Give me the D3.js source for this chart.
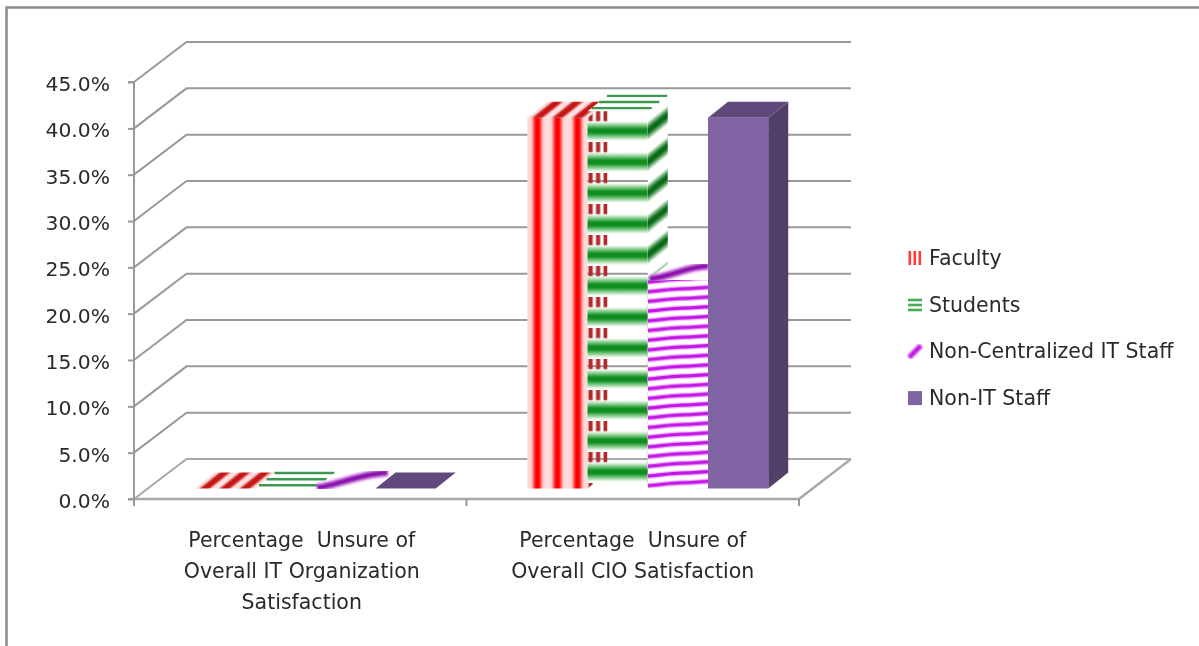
<!DOCTYPE html>
<html><head><meta charset="utf-8">
<script src="https://cdn.jsdelivr.net/npm/d3@7/dist/d3.min.js"></script>
<style>html,body{margin:0;background:#fff}svg{display:block}text{font-family:"DejaVu Sans";font-size:20.5px;fill:#2a2a2a;white-space:pre}</style>
</head><body><div id="c"></div>
<script>
const categories = ["Percentage  Unsure of Overall IT Organization Satisfaction","Percentage  Unsure of Overall CIO Satisfaction"];
const categoryLines = [["Percentage  Unsure of","Overall IT Organization","Satisfaction"],["Percentage  Unsure of","Overall CIO Satisfaction"]];
const seriesNames = ["Faculty","Students","Non-Centralized IT Staff","Non-IT Staff"];
const faculty = [0,40];
const students = [0,40.7];
const nonCentralized = [0,22.5];
const nonIT = [0,40];
const yTicks = [0,5,10,15,20,25,30,35,40,45];
const seriesValues = [faculty,students,nonCentralized,nonIT];

const W=1199,H=646;
const svg=d3.select("#c").append("svg").attr("width",W).attr("height",H);
const defs=svg.append("defs");
defs.append("filter").attr("id","soft").attr("x",-0.02).attr("y",-0.02).attr("width",1.04).attr("height",1.04)
  .append("feGaussianBlur").attr("stdDeviation",0.5);
defs.append("filter").attr("id","soft2").append("feGaussianBlur").attr("stdDeviation",1.2);

const y=d3.scaleLinear().domain([0,45]).range([499,82]);
const x0=d3.scaleBand().domain(d3.range(categories.length)).range([134,799]);
const x1=d3.scaleBand().domain(d3.range(seriesNames.length)).range([0,x0.bandwidth()]).paddingInner(0).paddingOuter(0.76);
const back={dx:52.5,dy:-40}, inset={dx:15,dy:-10.5}, depth={dx:20,dy:-16};
const gridCol="#999999", floorCol="#a8a8a8";

const root=svg.append("g").attr("filter","url(#soft)");
// frame
root.append("path").attr("d",`M6.5,${H}V7.5H${W}`).attr("fill","none").attr("stroke","#8a8a8a").attr("stroke-width",2.5);

// walls and floor
const wall=root.append("g");
wall.selectAll("path.grid").data(yTicks).join("path").attr("class","grid")
 .attr("d",d=>`M134,${y(d)}L${134+back.dx},${y(d)+back.dy}H851`)
 .attr("fill","none").attr("stroke",d=>d===0?floorCol:gridCol).attr("stroke-width",2);
wall.append("path").attr("d",`M134,${y(0)}H799L851,${y(0)+back.dy}`).attr("fill","none").attr("stroke",floorCol).attr("stroke-width",2.4);

// axes
const axis=root.append("g").attr("transform","translate(134,0)")
 .call(d3.axisLeft(y).tickValues(yTicks).tickSize(6).tickPadding(18).tickFormat(d=>d3.format(".1f")(d)+"%"));
axis.select(".domain").attr("stroke",gridCol).attr("stroke-width",2).attr("d",`M-6,${y(45)}H0V${y(0)}H-6`);
axis.selectAll(".tick line").attr("stroke",gridCol).attr("stroke-width",2);
axis.selectAll("text").style("font-size","20.3px").attr("fill","#2a2a2a").attr("dy","0.42em");
root.append("g").selectAll("line").data([0,1,2]).join("line")
 .attr("x1",d=>d===2?799:x0(d)).attr("x2",d=>d===2?799:x0(d)).attr("y1",y(0)).attr("y2",y(0)+7)
 .attr("stroke",gridCol).attr("stroke-width",2);

// patterns
function grad(id,stops,vert){const g=defs.append("linearGradient").attr("id",id);
 if(vert)g.attr("x1",0).attr("x2",0).attr("y1",0).attr("y2",1);
 stops.forEach(s=>g.append("stop").attr("offset",s[0]).attr("stop-color",s[1]).attr("stop-opacity",s[2]===undefined?1:s[2]));return `url(#${id})`;}
const bw=x1.bandwidth();
const fx=(c,s)=>x0(c)+x1(s)+inset.dx;
// faculty front stripes
const fPeriod=bw/3;
const redGrad=grad("redG",[[0,"#ffdcdc"],[0.2,"#ffd4d4"],[0.32,"#ff6060"],[0.42,"#ff0000"],[0.58,"#ff0000"],[0.68,"#ff6060"],[0.8,"#ffd4d4"],[1,"#ffdcdc"]]);
const pF=defs.append("pattern").attr("id","pFacF").attr("patternUnits","userSpaceOnUse").attr("width",fPeriod).attr("height",10)
 .attr("patternTransform",`translate(${fx(1,0)},0)`);
pF.append("rect").attr("width",fPeriod).attr("height",10).attr("fill",redGrad);
// faculty top: same stripes sheared
["0","1"].forEach(c=>{
 const pT=defs.append("pattern").attr("id","pFacT"+c).attr("patternUnits","userSpaceOnUse").attr("width",fPeriod).attr("height",depth.dy*-1)
  .attr("patternTransform",`translate(${fx(+c,0)},${y(faculty[+c])+inset.dy}) skewX(${Math.atan(depth.dx/depth.dy)*180/Math.PI})`);
 const tg=grad("redT"+c,[[0,"#ffe8e8"],[0.16,"#f8d0d0"],[0.32,"#d23030"],[0.42,"#c41414"],[0.58,"#c41414"],[0.68,"#d23030"],[0.84,"#f8d0d0"],[1,"#ffe8e8"]]);
 pT.append("rect").attr("width",fPeriod).attr("height",-depth.dy).attr("fill",tg);
});
// faculty side dashes
const rowP=31;
const sideRowY=y(0)+inset.dy-36.5;
const pS=defs.append("pattern").attr("id","pFacS").attr("patternUnits","userSpaceOnUse").attr("width",depth.dx).attr("height",rowP)
 .attr("patternTransform",`translate(${fx(1,1)},${sideRowY})`);
[1,8.5,16].forEach(o=>pS.append("rect").attr("x",o).attr("y",0).attr("width",4.2).attr("height",10.5).attr("fill","#b22a2a"));
// student bands
const bandStops=[[0,"#fff",0],[0.1,"#d8efd8",1],[0.28,"#62bb6c",1],[0.42,"#0e8c20",1],[0.58,"#0e8c20",1],[0.72,"#62bb6c",1],[0.9,"#d8efd8",1],[1,"#fff",0]];
const bandG=grad("bandG",bandStops,true);
const bandS=grad("bandS",[[0,"#fff",0],[0.1,"#cfe6cf",1],[0.28,"#4f9a58",1],[0.42,"#0a6a18",1],[0.58,"#0a6a18",1],[0.72,"#4f9a58",1],[0.9,"#cfe6cf",1],[1,"#fff",0]],true);
const bandH=21, bandCy=472;
const pSF=defs.append("pattern").attr("id","pStuF").attr("patternUnits","userSpaceOnUse").attr("width",10).attr("height",rowP)
 .attr("patternTransform",`translate(0,${bandCy-bandH/2})`);
pSF.append("rect").attr("width",10).attr("height",bandH).attr("fill",bandG);
const pSS=defs.append("pattern").attr("id","pStuS").attr("patternUnits","userSpaceOnUse").attr("width",depth.dx).attr("height",rowP)
 .attr("patternTransform",`translate(${fx(1,2)},${bandCy-bandH/2}) skewY(${Math.atan(depth.dy/depth.dx)*180/Math.PI})`);
pSS.append("rect").attr("width",depth.dx).attr("height",bandH).attr("fill",bandS);
// student top lines
function topLines(g,c){const b=fx(c,1),yy=y(students[c])+inset.dy;
 [0.2,0.58,0.97].forEach(f=>{g.append("line").attr("x1",b+depth.dx*f).attr("x2",b+depth.dx*f+bw).attr("y1",yy+depth.dy*f).attr("y2",yy+depth.dy*f)
  .attr("stroke","#3a9a50").attr("stroke-width",2.4);});}
// non-centralized wave
const nP=9.7;
const pNC=defs.append("pattern").attr("id","pNC").attr("patternUnits","userSpaceOnUse").attr("width",bw).attr("height",nP)
 .attr("patternTransform",`translate(${fx(1,2)},${y(0)+inset.dy})`);
pNC.append("rect").attr("width",bw).attr("height",nP).attr("fill","#fff");
const wave=[-1,0,1].map(k=>{const o=k*nP;return `M0,${7+o}C${bw*.2},${6.5+o} ${bw*.35},${4+o} ${bw*.55},${4+o}S${bw*.85},${3+o} ${bw},${2.5+o}`;}).join("");
pNC.append("path").attr("d",wave).attr("fill","none").attr("stroke","#eeb8f8").attr("stroke-width",5.5);
pNC.append("path").attr("d",wave).attr("fill","none").attr("stroke","#c412e6").attr("stroke-width",3.2);

// bars
const bars=root.append("g");
categories.forEach((_,c)=>{
 seriesNames.forEach((_,s)=>{
  const v=seriesValues[s][c], g=bars.append("g"), bx=fx(c,s), by0=y(0)+inset.dy, byt=y(v)+inset.dy, h=by0-byt;
  const front=`M${bx},${byt}h${bw}v${h}h${-bw}Z`;
  const side=`M${bx+bw},${byt}l${depth.dx},${depth.dy}v${h}l${-depth.dx},${-depth.dy}Z`;
  const top=`M${bx},${byt}h${bw}l${depth.dx},${depth.dy}h${-bw}Z`;
  if(s===0){
   if(h>0){g.append("path").attr("d",side).attr("fill","url(#pFacS)");g.append("path").attr("d",front).attr("fill","url(#pFacF)");}
   g.append("path").attr("d",top).attr("fill",`url(#pFacT${c})`);
  } else if(s===1){
   if(h>0){g.append("path").attr("d",front).attr("fill","url(#pStuF)");
    g.append("path").attr("d",side).attr("fill","#fff");g.append("path").attr("d",side).attr("fill","url(#pStuS)");
    g.append("path").attr("d",top).attr("fill","#fff");}
   topLines(g,c);
  } else if(s===2){
   if(h>0){g.append("path").attr("d",front).attr("fill","url(#pNC)");}
   const mid=`M${bx+2},${byt-1}C${bx+bw*.35},${byt-3} ${bx+bw*.7},${byt+depth.dy+2} ${bx+bw+(h>0?0:depth.dx*0.6)},${byt+depth.dy+(h>0?2:0)}`;
   g.append("path").attr("d",top).attr("fill","#fff");
   g.append("path").attr("d",mid).attr("fill","none").attr("stroke","#dca8ea").attr("stroke-width",9).attr("filter","url(#soft2)");
   g.append("path").attr("d",mid).attr("fill","none").attr("stroke","#8a10ac").attr("stroke-width",5).attr("filter","url(#soft2)");
  } else {
   g.append("path").attr("d",side).attr("fill","#533f68");
   g.append("path").attr("d",top).attr("fill","#604a7b");
   g.append("path").attr("d",front).attr("fill","#8064a2");
  }
 });
});

// category labels
categoryLines.forEach((lines,c)=>{
 root.append("text").attr("text-anchor","middle").selectAll("tspan").data(lines).join("tspan")
  .attr("x",x0(c)+x0.bandwidth()/2+(c===0?1.5:0)).attr("y",(d,i)=>547+i*31).text(d=>d);
});

// legend
const lg=root.append("g").selectAll("g").data(seriesNames).join("g").attr("transform",(d,i)=>`translate(908,${258+i*46.7})`);
lg.append("text").attr("x",21).attr("y",7).text(d=>d);
lg.each(function(d,i){const g=d3.select(this);
 if(i===0)[0,5,10].forEach(o=>g.append("rect").attr("x",o+.5).attr("y",-7).attr("width",2.6).attr("height",14).attr("fill","#ff3a3a"));
 if(i===1)[-6,-1,4].forEach(o=>g.append("rect").attr("x",0).attr("y",o).attr("width",14).attr("height",2.6).attr("fill","#45ad56"));
 if(i===2)g.append("line").attr("x1",1).attr("y1",6).attr("x2",13).attr("y2",-6).attr("stroke","#c40ce6").attr("stroke-width",5).attr("filter","url(#soft2)");
 if(i===3)g.append("rect").attr("x",0).attr("y",-7).attr("width",14).attr("height",14).attr("fill","#8064a2");
});
</script></body></html>
